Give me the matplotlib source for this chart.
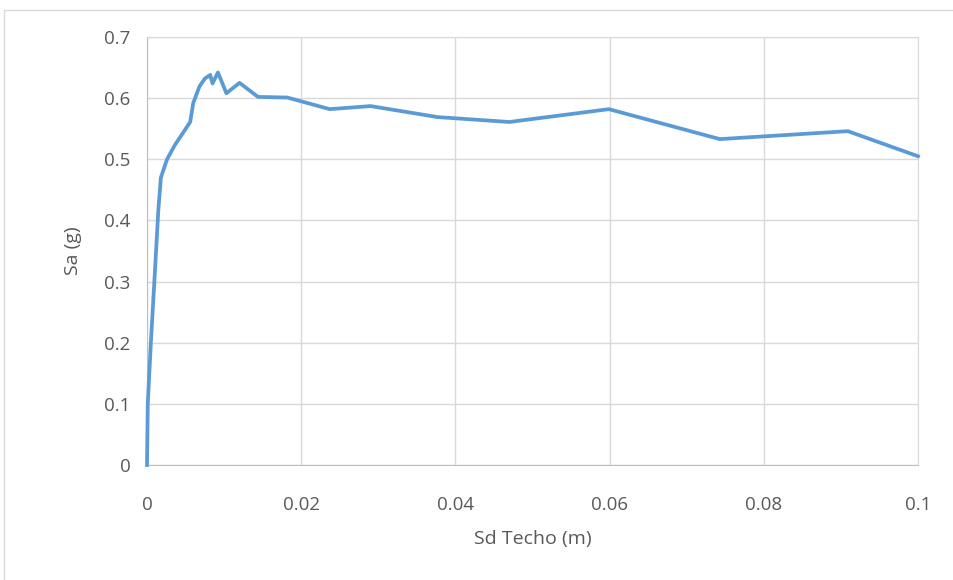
import matplotlib
matplotlib.use("Agg")
import matplotlib.pyplot as plt
from matplotlib.patches import Rectangle

# pushover curve
sd = [0.0, 0.0001, 0.0005, 0.001, 0.00147, 0.0018, 0.0026, 0.0036, 0.0045, 0.0056,
      0.006, 0.0068, 0.0075, 0.0082, 0.0085, 0.0092, 0.0103, 0.012, 0.0144,
      0.0182, 0.0237, 0.029, 0.0377, 0.047, 0.0599, 0.0743, 0.0909, 0.1]
sa = [0.0, 0.10, 0.20, 0.31, 0.417, 0.47, 0.50, 0.523, 0.54, 0.561,
      0.592, 0.619, 0.632, 0.638, 0.624, 0.642, 0.608, 0.625, 0.602,
      0.601, 0.582, 0.587, 0.569, 0.561, 0.582, 0.533, 0.546, 0.505]

xticks = [0, 0.02, 0.04, 0.06, 0.08, 0.1]
xlabels = ["0", "0.02", "0.04", "0.06", "0.08", "0.1"]
yticks = [0, 0.1, 0.2, 0.3, 0.4, 0.5, 0.6, 0.7]
ylabels = ["0", "0.1", "0.2", "0.3", "0.4", "0.5", "0.6", "0.7"]

plt.rcParams['font.family'] = ['Open Sans', 'DejaVu Sans']

fig = plt.figure(figsize=(9.54, 5.8), dpi=100)
# outer chart frame, only left and top edges are inside the picture
fig.patches.append(Rectangle((4 / 954, -0.05), 1.2, 1 - 10 / 580 + 0.05,
                             transform=fig.transFigure, fill=False,
                             edgecolor='#D9D9D9', linewidth=1))
ax = fig.add_axes([147 / 954, 1 - 465 / 580, 771 / 954, 428 / 580])

ax.plot(sd, sa, color='#5B9BD5', linewidth=2.7, solid_joinstyle='round',
        zorder=3, clip_on=False)

ax.set_xlim(0, 0.1)
ax.set_ylim(0, 0.7)
ax.set_xticks(xticks)
ax.set_xticklabels(xlabels)
ax.set_yticks(yticks)
ax.set_yticklabels(ylabels)
ax.grid(True, color='#D9D9D9', linewidth=1)
ax.set_axisbelow(True)
ax.tick_params(length=0, labelsize=13.5, labelcolor='#595959')
ax.tick_params(axis='x', pad=22)
ax.tick_params(axis='y', pad=12)
for s in ['top', 'right']:
    ax.spines[s].set_color('#D9D9D9')
for s in ['left', 'bottom']:
    ax.spines[s].set_color('#BFBFBF')

ax.set_xlabel('Sd Techo (m)', fontsize=14, color='#595959', labelpad=12)
ax.set_ylabel('Sa (g)', fontsize=14, color='#595959', labelpad=16)

fig.savefig('out.png', dpi=100)
